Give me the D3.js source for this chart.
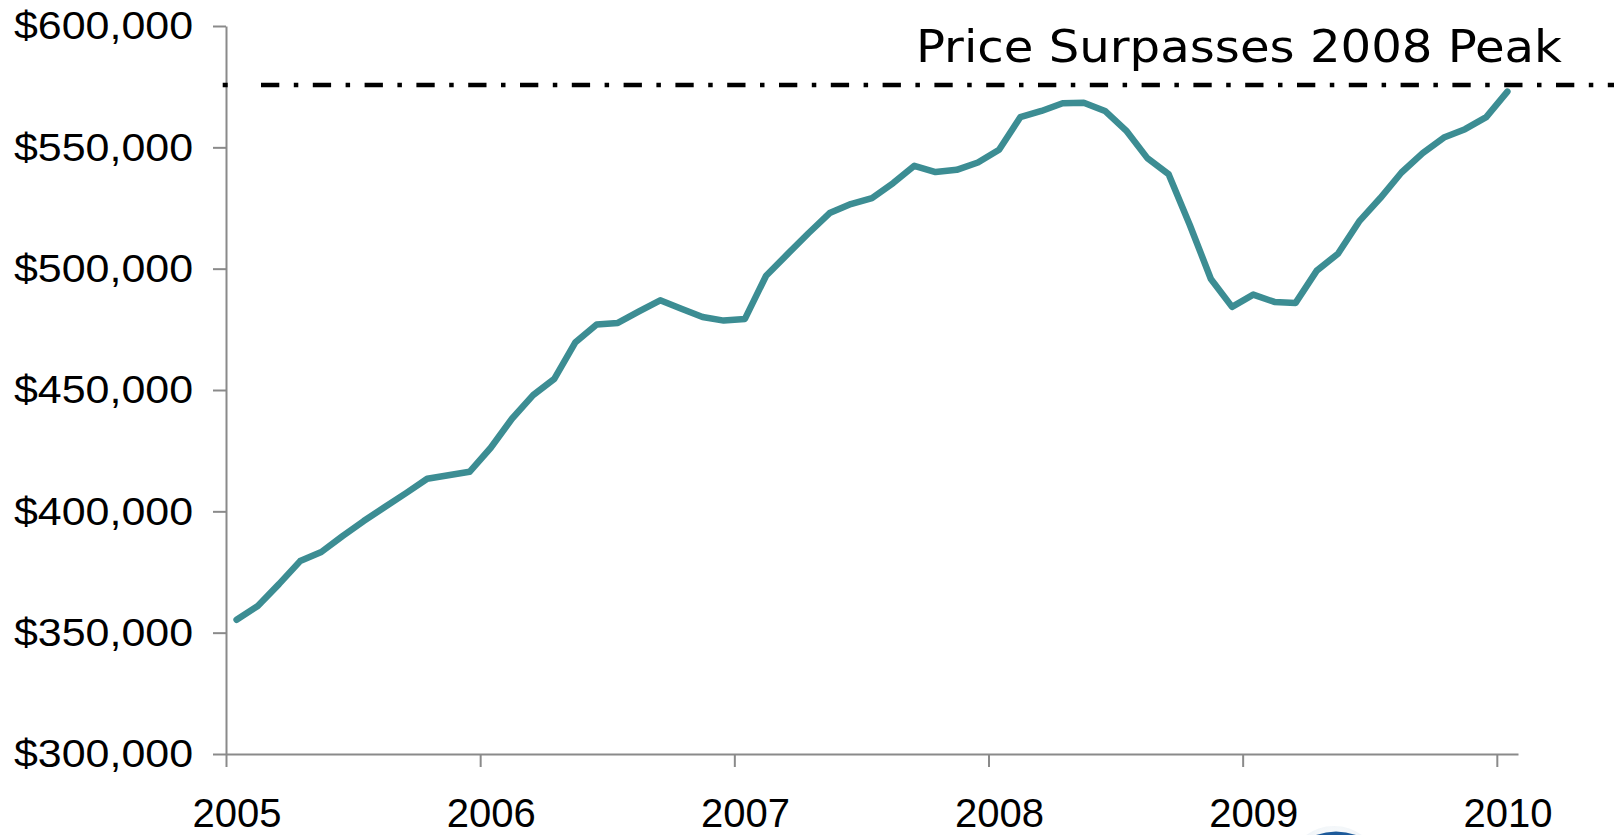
<!DOCTYPE html>
<html>
<head>
<meta charset="utf-8">
<script src="https://cdn.jsdelivr.net/npm/d3@7"></script>
<style>
  html, body { margin: 0; padding: 0; background: #ffffff; }
  svg { display: block; }
</style>
</head>
<body>
<svg id="chart" width="1614" height="835"></svg>
<script>
// ---- data ----
const years = [2005, 2006, 2007, 2008, 2009, 2010];
const months = d3.range(61); // Jan 2005 .. Jan 2010, monthly
const prices = [
  355300, 361000, 370000, 379500, 383250, 389800, 396000, 401800, 407500, 413450, 414900, 416300,
  426200, 438150, 447860, 454600, 469700, 476950, 477650, 482400, 486950, 483500, 480100, 478600,
  479300, 497100, 505900, 514600, 522900, 526600, 529100, 535270, 542400, 539800, 540740, 543750,
  548970, 562430, 565000, 568190, 568400, 565000, 556900, 545550, 538970, 518100, 495760, 484240,
  489300, 486300, 485900, 499180, 506170, 519470, 529100, 539630, 547600, 554030, 557490, 562430,
  572960
];
const yTicks = [300000, 350000, 400000, 450000, 500000, 550000, 600000];
const peakValue = 575700;
const peakLabel = "Price Surpasses 2008 Peak";

// ---- layout ----
const svg = d3.select("#chart");
const mLeft = 226, mRight = 1518, mTop = 26, mBottom = 754;

const x = d3.scaleLinear().domain([0, months.length]).range([mLeft, mRight]);
const y = d3.scaleLinear().domain([300000, 600000]).range([mBottom, mTop]);
const axisColor = "#8a8a8a";

// y axis
const yAxis = svg.append("g")
  .attr("transform", `translate(${mLeft},0)`)
  .call(d3.axisLeft(y).tickValues(yTicks).tickSize(13).tickSizeOuter(0).tickPadding(20)
    .tickFormat(d => "$" + d3.format(",")(d)));
yAxis.select(".domain").attr("stroke", axisColor).attr("stroke-width", 2);
yAxis.selectAll(".tick line").attr("stroke", axisColor).attr("stroke-width", 2);
yAxis.selectAll(".tick text")
  .attr("font-family", "'Liberation Sans', Arial, sans-serif")
  .attr("font-size", 39)
  .attr("fill", "#000")
  .attr("dy", "0.33em")
  .attr("textLength", 179)
  .attr("lengthAdjust", "spacingAndGlyphs");

// x axis
const xAxis = svg.append("g")
  .attr("transform", `translate(0,${mBottom})`)
  .call(d3.axisBottom(x).tickValues(years.map((yr, i) => i * 12)).tickSize(13).tickSizeOuter(0)
    .tickPadding(32).tickFormat((d, i) => years[i]));
xAxis.select(".domain").attr("stroke", axisColor).attr("stroke-width", 2);
xAxis.selectAll(".tick line").attr("stroke", axisColor).attr("stroke-width", 2);
xAxis.selectAll(".tick text")
  .attr("font-family", "'Liberation Sans', Arial, sans-serif")
  .attr("font-size", 40)
  .attr("fill", "#000")
  .attr("x", (x(1) - x(0)) / 2)
  .attr("dy", "0.71em");

// peak reference line (dash-dot)
const pat = [];
for (let k = 0; k < 30; k++) pat.push(18.3, 14.5, 4.5, 14.5);
const dash = [5, 33.3].concat(pat).join(",");
svg.append("line")
  .attr("x1", mLeft - 3.3).attr("x2", 1614)
  .attr("y1", y(peakValue)).attr("y2", y(peakValue))
  .attr("stroke", "#000").attr("stroke-width", 4.5)
  .attr("stroke-dasharray", dash);

svg.append("text")
  .attr("x", 916).attr("y", 62)
  .attr("font-family", "'DejaVu Sans Condensed', 'DejaVu Sans', sans-serif")
  .attr("font-size", 45)
  .attr("fill", "#000")
  .attr("textLength", 646)
  .attr("lengthAdjust", "spacingAndGlyphs")
  .text(peakLabel);

// price line
const line = d3.line().x((d, i) => x(months[i] + 0.5)).y(d => y(d));
svg.append("path")
  .datum(prices)
  .attr("d", line)
  .attr("fill", "none")
  .attr("stroke", "#3c8d93")
  .attr("stroke-width", 6.5)
  .attr("stroke-linejoin", "round")
  .attr("stroke-linecap", "round");

// partial logo fragment at bottom edge
const defs = svg.append("defs");
const g = defs.append("radialGradient").attr("id", "logo").attr("cx", "50%").attr("cy", "30%").attr("r", "60%");
g.append("stop").attr("offset", "0%").attr("stop-color", "#ffffff");
g.append("stop").attr("offset", "70%").attr("stop-color", "#eef3f7");
g.append("stop").attr("offset", "100%").attr("stop-color", "#d3dee8");
svg.append("ellipse").attr("cx", 1334).attr("cy", 858).attr("rx", 40).attr("ry", 32)
  .attr("fill", "url(#logo)");
svg.append("path").attr("d", "M1316,835 Q1336,828 1356,835 Z").attr("fill", "#1d5a9a");
</script>
</body>
</html>
